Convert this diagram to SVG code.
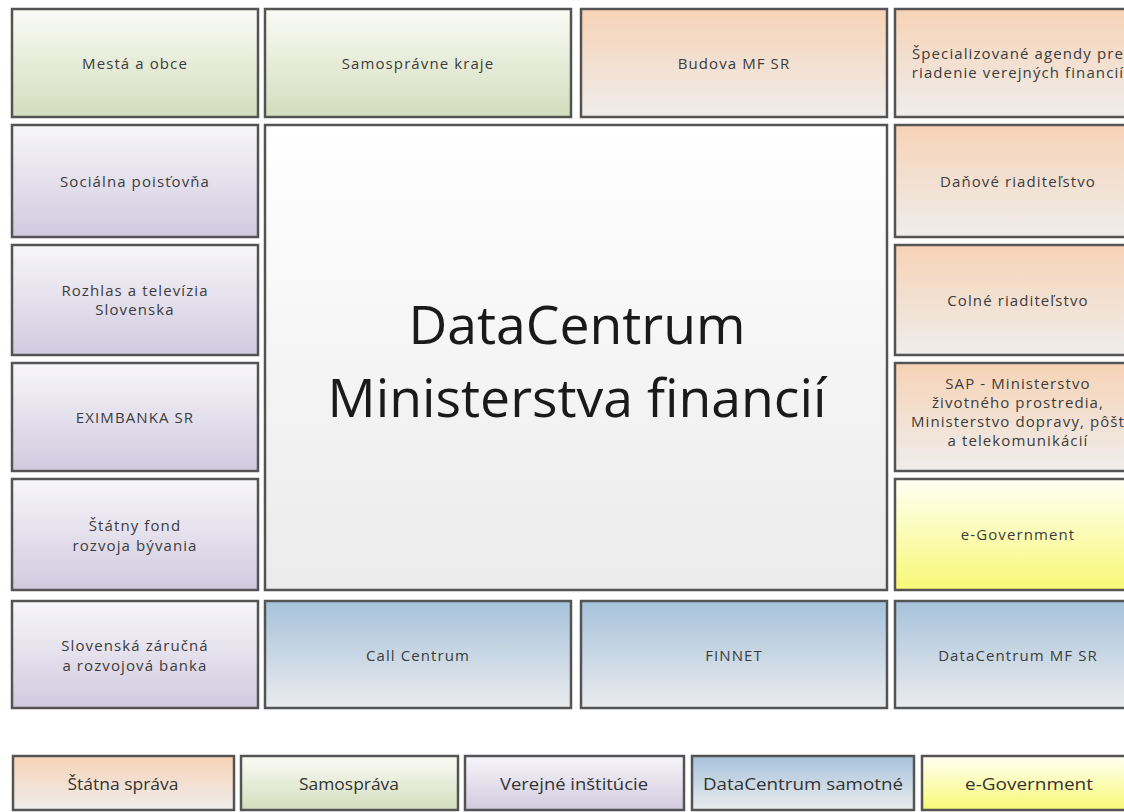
<svg xmlns="http://www.w3.org/2000/svg" width="1124" height="812" viewBox="0 0 1124 812">
<defs>
<linearGradient id="gGreen" x1="0" y1="0" x2="0" y2="1"><stop offset="0" stop-color="#fafbf5"/><stop offset="1" stop-color="#d4ddbd"/></linearGradient>
<linearGradient id="gOrange" x1="0" y1="0" x2="0" y2="1"><stop offset="0" stop-color="#f7d3b6"/><stop offset="1" stop-color="#efedeb"/></linearGradient>
<linearGradient id="gPurple" x1="0" y1="0" x2="0" y2="1"><stop offset="0" stop-color="#f7f6fa"/><stop offset="1" stop-color="#d1cadf"/></linearGradient>
<linearGradient id="gBlue" x1="0" y1="0" x2="0" y2="1"><stop offset="0" stop-color="#a7c2db"/><stop offset="1" stop-color="#eaecee"/></linearGradient>
<linearGradient id="gYellow" x1="0" y1="0" x2="0" y2="1"><stop offset="0" stop-color="#fffff4"/><stop offset="1" stop-color="#f8f876"/></linearGradient>
<linearGradient id="gCenter" x1="0" y1="0" x2="0" y2="1"><stop offset="0" stop-color="#ffffff"/><stop offset="1" stop-color="#ebebeb"/></linearGradient>
</defs>
<style>
.box{stroke:#545454;stroke-width:2.5}
.t{font-family:"Open Sans","Liberation Sans",sans-serif;font-size:15px;letter-spacing:1.1px;fill:#3c3c3c;text-anchor:middle;dominant-baseline:central}
.title{font-family:"Open Sans","Liberation Sans",sans-serif;font-size:53.5px;fill:#1a1a1a;text-anchor:middle}
.lg{font-family:"Open Sans","Liberation Sans",sans-serif;font-size:17px;fill:#333333;text-anchor:middle;dominant-baseline:central}
.green{fill:url(#gGreen)}.orange{fill:url(#gOrange)}.purple{fill:url(#gPurple)}.blue{fill:url(#gBlue)}.yellow{fill:url(#gYellow)}.center{fill:url(#gCenter)}
</style>
<rect width="1124" height="812" fill="#ffffff"/>

<g id="mesta"><rect class="box green" x="12" y="9" width="246" height="108"/><text class="t" x="135" y="63">Mestá a obce</text></g>
<g id="samospravne-kraje"><rect class="box green" x="265" y="9" width="306" height="108"/><text class="t" x="418" y="63">Samosprávne kraje</text></g>
<g id="budova"><rect class="box orange" x="581" y="9" width="306" height="108"/><text class="t" x="734" y="63">Budova MF SR</text></g>
<g id="specializovane"><rect class="box orange" x="895" y="9" width="246" height="108"/><text class="t" x="1018" y="53">Špecializované agendy pre</text><text class="t" x="1018" y="72">riadenie verejných financií</text></g>

<g id="socialna"><rect class="box purple" x="12" y="125" width="246" height="112"/><text class="t" x="135" y="181">Sociálna poisťovňa</text></g>
<g id="rozhlas"><rect class="box purple" x="12" y="245" width="246" height="110"/><text class="t" x="135" y="290">Rozhlas a televízia</text><text class="t" x="135" y="309">Slovenska</text></g>
<g id="eximbanka"><rect class="box purple" x="12" y="363" width="246" height="108"/><text class="t" x="135" y="417">EXIMBANKA SR</text></g>
<g id="statny-fond"><rect class="box purple" x="12" y="479" width="246" height="111"/><text class="t" x="135" y="525">Štátny fond</text><text class="t" x="135" y="545">rozvoja bývania</text></g>
<g id="szrb"><rect class="box purple" x="12" y="601" width="246" height="107"/><text class="t" x="135" y="645">Slovenská záručná</text><text class="t" x="135" y="665">a rozvojová banka</text></g>

<g id="datacentrum-mf"><rect class="box center" x="265" y="125" width="622" height="465"/><text class="title" x="577" y="344">DataCentrum</text><text class="title" x="577" y="417">Ministerstva financií</text></g>

<g id="danove"><rect class="box orange" x="895" y="125" width="246" height="112"/><text class="t" x="1018" y="181">Daňové riaditeľstvo</text></g>
<g id="colne"><rect class="box orange" x="895" y="245" width="246" height="110"/><text class="t" x="1018" y="300">Colné riaditeľstvo</text></g>
<g id="sap"><rect class="box orange" x="895" y="363" width="246" height="108"/><text class="t" x="1018" y="383">SAP - Ministerstvo</text><text class="t" x="1018" y="402">životného prostredia,</text><text class="t" x="1018" y="421">Ministerstvo dopravy, pôšt</text><text class="t" x="1018" y="440">a telekomunikácií</text></g>
<g id="egov"><rect class="box yellow" x="895" y="479" width="246" height="111"/><text class="t" x="1018" y="534">e-Government</text></g>

<g id="call-centrum"><rect class="box blue" x="265" y="601" width="306" height="107"/><text class="t" x="418" y="655">Call Centrum</text></g>
<g id="finnet"><rect class="box blue" x="581" y="601" width="306" height="107"/><text class="t" x="734" y="655">FINNET</text></g>
<g id="dc-mf-sr"><rect class="box blue" x="895" y="601" width="246" height="107"/><text class="t" x="1018" y="655">DataCentrum MF SR</text></g>

<g id="legend">
<g id="lg-statna"><rect class="box orange" x="13" y="756" width="221" height="54"/><text class="lg" x="123" y="783" textLength="111" lengthAdjust="spacingAndGlyphs">Štátna správa</text></g>
<g id="lg-samosprava"><rect class="box green" x="241" y="756" width="217" height="54"/><text class="lg" x="349" y="783" textLength="100" lengthAdjust="spacingAndGlyphs">Samospráva</text></g>
<g id="lg-verejne"><rect class="box purple" x="465" y="756" width="219" height="54"/><text class="lg" x="574" y="783" textLength="148" lengthAdjust="spacingAndGlyphs">Verejné inštitúcie</text></g>
<g id="lg-dc"><rect class="box blue" x="692" y="756" width="222" height="54"/><text class="lg" x="803" y="783" textLength="200" lengthAdjust="spacingAndGlyphs">DataCentrum samotné</text></g>
<g id="lg-egov"><rect class="box yellow" x="922" y="756" width="215" height="54"/><text class="lg" x="1029" y="783" textLength="128" lengthAdjust="spacingAndGlyphs">e-Government</text></g>
</g>
</svg>
